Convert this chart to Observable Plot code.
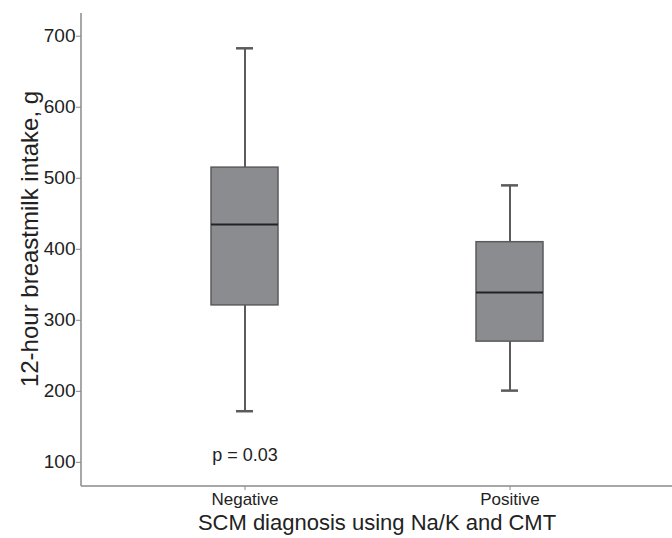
<!DOCTYPE html>
<html><head><meta charset="utf-8">
<script src="https://cdn.jsdelivr.net/npm/d3@7"></script>
<script src="https://cdn.jsdelivr.net/npm/@observablehq/plot@0.6"></script>
<style>body{margin:0;background:#fff;font-family:"Liberation Sans",Arial,sans-serif;}</style>
</head><body><div id="chart"></div>
<script>
const groups = ["Negative", "Positive"];
const whiskerLow = [172, 201];
const q1 = [321, 270];
const median = [435, 339];
const q3 = [515, 410];
const whiskerHigh = [683, 490];
const yTicks = [100, 200, 300, 400, 500, 600, 700];
const pLabel = "p = 0.03";
const pValueY = 110;

const rows = groups.map((g, i) => ({g, lo: whiskerLow[i], q1: q1[i], med: median[i], q3: q3[i], hi: whiskerHigh[i]}));
const boxStroke = "#5b5b5d";
const axisColor = "#8a8a8a";

// axis lines along the left and bottom of the frame
const axisLines = (index, scales, values, dims) => {
  const ns = "http://www.w3.org/2000/svg";
  const g = document.createElementNS(ns, "g");
  const x0 = dims.marginLeft, x1 = dims.width - dims.marginRight;
  const y0 = dims.marginTop, y1 = dims.height - dims.marginBottom;
  for (const [a, b, c, d] of [[x0, y0, x0, y1], [x0, y1, x1, y1]]) {
    const l = document.createElementNS(ns, "line");
    l.setAttribute("x1", a); l.setAttribute("y1", b);
    l.setAttribute("x2", c); l.setAttribute("y2", d);
    l.setAttribute("stroke", axisColor); l.setAttribute("stroke-width", 1.5);
    g.append(l);
  }
  return g;
};

const chart = Plot.plot({
  width: 672, height: 538,
  marginTop: 13, marginBottom: 52, marginLeft: 81, marginRight: 0,
  style: {fontFamily: "Liberation Sans, Arial, sans-serif", background: "#fff", color: "#222"},
  x: {type: "band", domain: groups, paddingInner: 0.748, paddingOuter: 0.485, label: null},
  y: {domain: [66, 732], label: null},
  marks: [
    Plot.axisY({ticks: yTicks, tickSize: 5, tickPadding: 1, fontSize: 19, stroke: axisColor, label: null}),
    Plot.axisX({tickSize: 4, tickPadding: 2, fontSize: 17, stroke: axisColor, label: null}),
    axisLines,
    Plot.ruleX(rows, {x: "g", y1: "q3", y2: "hi", stroke: boxStroke, strokeWidth: 2}),
    Plot.ruleX(rows, {x: "g", y1: "lo", y2: "q1", stroke: boxStroke, strokeWidth: 2}),
    Plot.barY(rows, {x: "g", y1: "q1", y2: "q3", fill: "#8b8c8f", stroke: boxStroke, strokeWidth: 1.5}),
    Plot.tickY(rows, {x: "g", y: "med", stroke: "#222", strokeWidth: 2}),
    Plot.tickY(rows, {x: "g", y: "hi", stroke: boxStroke, strokeWidth: 2.5, inset: 25}),
    Plot.tickY(rows, {x: "g", y: "lo", stroke: boxStroke, strokeWidth: 2.5, inset: 25}),
    Plot.text([pLabel], {x: () => groups[0], y: () => pValueY, fontSize: 18, fill: "#222"}),
    Plot.text(["12-hour breastmilk intake, g"], {frameAnchor: "left", textAnchor: "middle", lineAnchor: "middle", rotate: -90, dx: -51, dy: -11, fontSize: 24, fill: "#222"}),
    Plot.text(["SCM diagnosis using Na/K and CMT"], {frameAnchor: "bottom", textAnchor: "middle", lineAnchor: "middle", dy: 36, fontSize: 22, fill: "#222"})
  ]
});
document.getElementById("chart").append(chart);
</script>
</body></html>
